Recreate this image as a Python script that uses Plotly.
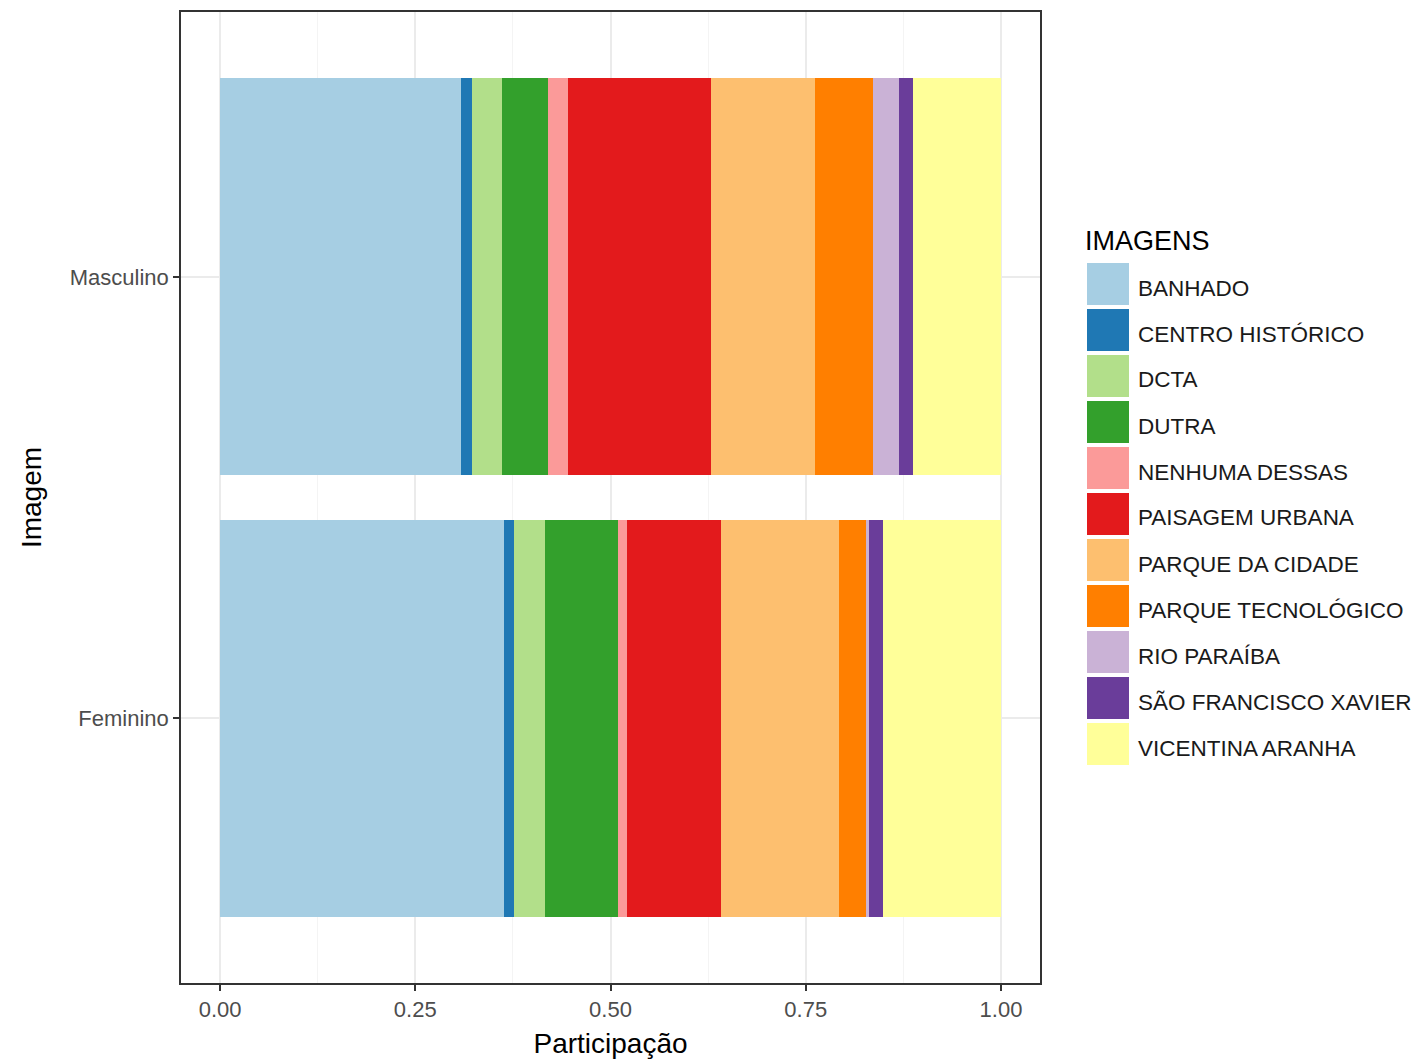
import plotly.graph_objects as go

# ColorBrewer "Paired", same as scale_fill_brewer(palette="Paired")
paired = ["#A6CEE3", "#1F78B4", "#B2DF8A", "#33A02C", "#FB9A99", "#E31A1C",
          "#FDBF6F", "#FF7F00", "#CAB2D6", "#6A3D9A", "#FFFF99"]

imagens = ["BANHADO", "CENTRO HISTÓRICO", "DCTA", "DUTRA", "NENHUMA DESSAS",
           "PAISAGEM URBANA", "PARQUE DA CIDADE", "PARQUE TECNOLÓGICO",
           "RIO PARAÍBA", "SÃO FRANCISCO XAVIER", "VICENTINA ARANHA"]

sexo = ["Feminino", "Masculino"]

# share of each image per group
feminino = [0.363, 0.013, 0.040, 0.093, 0.012, 0.121, 0.151, 0.034, 0.004, 0.018, 0.151]
masculino = [0.309, 0.014, 0.038, 0.059, 0.025, 0.184, 0.133, 0.074, 0.033, 0.018, 0.113]

OFF = 8  # default body margin of the html page
W, H = 1422 - OFF, 1063 - OFF
L, R, T, B = 181 - OFF, 1040 - OFF, 12 - OFF, 983 - OFF


def px_x(x):
    return (x - OFF - L) / (R - L)


def px_y(y):
    return (B - (y - OFF)) / (B - T)


fig = go.Figure()
for i, nome in enumerate(imagens):
    fig.add_trace(go.Bar(
        y=sexo,
        x=[feminino[i], masculino[i]],
        name=nome,
        orientation="h",
        marker=dict(color=paired[i], line=dict(width=0)),
        showlegend=False,
    ))

# legend drawn by hand to get ggplot-sized keys
shapes = []
annotations = [dict(
    text="IMAGENS", x=px_x(1083), y=px_y(241), xref="paper", yref="paper",
    xanchor="left", yanchor="middle", showarrow=False,
    font=dict(size=27, color="#000000"),
)]
for i, nome in enumerate(imagens):
    cy = 284 + 46 * i
    shapes.append(dict(
        type="rect", xref="paper", yref="paper",
        x0=px_x(1087), x1=px_x(1129), y0=px_y(cy - 21), y1=px_y(cy + 21),
        fillcolor=paired[i], line=dict(width=0), layer="above",
    ))
    annotations.append(dict(
        text=nome, x=px_x(1136), y=px_y(cy + 4), xref="paper", yref="paper",
        xanchor="left", yanchor="middle", showarrow=False,
        font=dict(size=22.5, color="#1A1A1A"),
    ))

fig.update_layout(
    width=W, height=H,
    barmode="stack", bargap=0.1,
    margin=dict(l=L, r=W - R, t=T, b=H - B, autoexpand=False),
    plot_bgcolor="white", paper_bgcolor="white",
    font=dict(family="Liberation Sans, Arial, sans-serif"),
    shapes=shapes, annotations=annotations,
    xaxis=dict(
        range=[-0.05, 1.05],
        tickvals=[0, 0.25, 0.5, 0.75, 1.0],
        ticktext=["0.00", "0.25", "0.50", "0.75", "1.00"],
        showgrid=True, gridcolor="#EBEBEB", gridwidth=1.5,
        minor=dict(tickvals=[0.125, 0.375, 0.625, 0.875], showgrid=True,
                   gridcolor="#F4F4F4", gridwidth=1),
        zeroline=False,
        showline=True, mirror=True, linecolor="#333333", linewidth=1.5,
        ticks="outside", ticklen=6, tickcolor="#333333", tickwidth=1.5,
        tickfont=dict(size=22, color="#4D4D4D"),
        title=dict(text="Participação", font=dict(size=28, color="#000000"), standoff=12),
    ),
    yaxis=dict(
        range=[-0.6, 1.6],
        categoryorder="array", categoryarray=sexo,
        showgrid=True, gridcolor="#EBEBEB", gridwidth=1.5,
        zeroline=False,
        showline=True, mirror=True, linecolor="#333333", linewidth=1.5,
        ticks="outside", ticklen=6, tickcolor="#333333", tickwidth=1.5,
        tickfont=dict(size=22, color="#4D4D4D"),
        title=dict(text="Imagem", font=dict(size=28, color="#000000"), standoff=20),
    ),
)

fig.write_html("out.html")
